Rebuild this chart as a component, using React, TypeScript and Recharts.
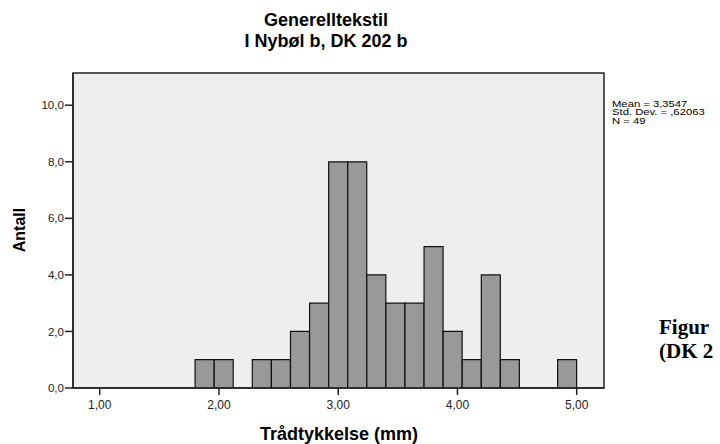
import { ComposedChart, Bar, XAxis, YAxis, CartesianGrid, ReferenceArea, Customized } from 'recharts'

// bin midpoints (mm) and counts
const binMids = [
  1.88, 2.04, 2.2, 2.36, 2.52, 2.68, 2.84, 3.0, 3.16, 3.32,
  3.48, 3.64, 3.8, 3.96, 4.12, 4.28, 4.44, 4.6, 4.76, 4.92,
]
const counts = [1, 1, 0, 1, 1, 2, 3, 8, 8, 4, 3, 3, 5, 2, 1, 4, 1, 0, 0, 1]

const xTicks = [1, 2, 3, 4, 5]
const yTicks = [0, 2, 4, 6, 8, 10]
const X_DOMAIN: [number, number] = [0.776, 5.229]
const Y_DOMAIN: [number, number] = [0, 11.14]

const titleLines = ['Generelltekstil', 'I Nybøl b, DK 202 b']
const statLines = ['Mean = 3,3547', 'Std. Dev. = ,62063', 'N = 49']
const figLines = ['Figur', '(DK 2']

const data = binMids.map((x, i) => ({ x, count: counts[i] }))

const SANS = '"Liberation Sans", Arial, sans-serif'
const SERIF = '"Liberation Serif", "Times New Roman", serif'

function Annotations() {
  return (
    <g>
      {titleLines.map((t, i) => (
        <text key={t} x={326} y={26 + i * 20.5} textAnchor="middle" fontFamily={SANS}
          fontWeight="bold" fontSize={18} fill="#000">{t}</text>
      ))}
      {statLines.map((t, i) => (
        <text key={t} transform={`translate(612,${107 + i * 8.3}) scale(1.28,1)`}
          fontFamily={SANS} fontSize={8.8} fill="#000">{t}</text>
      ))}
      {figLines.map((t, i) => (
        <text key={t} x={659} y={334 + i * 24} fontFamily={SERIF} fontWeight="bold"
          fontSize={21} fill="#000">{t}</text>
      ))}
      <text transform="translate(25,230) rotate(-90)" textAnchor="middle" fontFamily={SANS}
        fontWeight="bold" fontSize={16} fill="#000">Antall</text>
      <text x={339} y={440} textAnchor="middle" fontFamily={SANS} fontWeight="bold"
        fontSize={18} fill="#000">Trådtykkelse (mm)</text>
    </g>
  )
}

export default function App() {
  return (
    <div style={{ position: 'absolute', left: 0, top: 0, width: 720, height: 444, background: '#fff' }}>
      <ComposedChart width={720} height={444} data={data}
        margin={{ top: 73, right: 116, bottom: 26, left: 23 }}>
        <CartesianGrid horizontal={false} vertical={false} fill="#eeeeee" />
        <XAxis dataKey="x" type="number" domain={X_DOMAIN} ticks={xTicks} allowDataOverflow
          height={30} tickSize={7} tickMargin={5} interval={0}
          tickFormatter={(v: number) => v.toFixed(2).replace('.', ',')}
          tick={{ fontSize: 12, fill: '#222', fontFamily: SANS }}
          axisLine={{ stroke: '#222', strokeWidth: 1.5 }} tickLine={{ stroke: '#222', strokeWidth: 1.5 }} />
        <YAxis type="number" domain={Y_DOMAIN} ticks={yTicks} allowDataOverflow width={50}
          tickSize={8} tickMargin={1} interval={0}
          tickFormatter={(v: number) => v.toFixed(1).replace('.', ',')}
          tick={{ fontSize: 11.6, fill: '#222', fontFamily: SANS }}
          axisLine={{ stroke: '#222', strokeWidth: 1.5 }} tickLine={{ stroke: '#222', strokeWidth: 1.5 }} />
        <Bar dataKey="count" fill="#999999" stroke="#111" strokeWidth={1.2} barSize={19}
          isAnimationActive={false} />
        <ReferenceArea x1={X_DOMAIN[0]} x2={X_DOMAIN[1]} y1={Y_DOMAIN[0]} y2={Y_DOMAIN[1]}
          fill="none" fillOpacity={0} stroke="#222" strokeWidth={1.5} strokeOpacity={1} ifOverflow="visible" />
        <Customized component={Annotations} />
      </ComposedChart>
    </div>
  )
}
